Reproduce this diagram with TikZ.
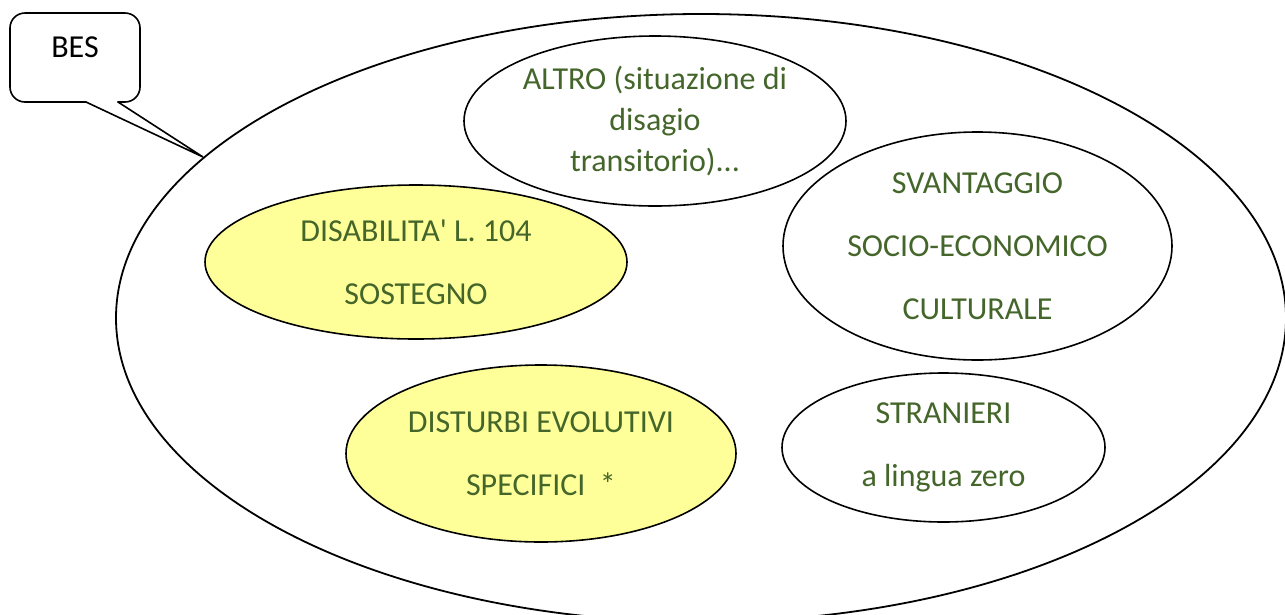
\documentclass[tikz,border=0pt]{standalone}
\usepackage{fontspec}
\setmainfont{Carlito}
\usetikzlibrary{shapes.geometric}
\definecolor{txtgreen}{HTML}{44662A}
\definecolor{fillyellow}{HTML}{FFFF99}
\tikzset{
  outline/.style={draw=black, line width=1.6pt},
  bubble/.style={ellipse, outline, fill=white, inner sep=0pt, align=center, text=txtgreen, font=\fontsize{32}{63}\selectfont},
  yellowbubble/.style={bubble, fill=fillyellow},
}
\begin{document}
\begin{tikzpicture}[x=1pt,y=-1pt]
\useasboundingbox (0,0) rectangle (1285,614);
% big set
\node[ellipse, outline, line width=1.8pt, inner sep=0pt, minimum width=1170pt, minimum height=608pt] (set) at (701,318) {};
% callout
\node[anchor=base, font=\fontsize{32}{38}\selectfont] (bestext) at (75,57) {BES};
\coordinate (tip) at (203,157);
\coordinate (pa) at (86,102);
\coordinate (pb) at (118,102);
\draw[outline, rounded corners=15pt, line cap=round] (pa) -- (10,102) -- (10,13) -- (140,13) -- (140,102) -- (pb);
\draw[outline, line join=miter, line cap=round] (pb) -- (tip) -- (pa);
% subsets
\node[bubble, minimum width=382pt, minimum height=170pt, font=\fontsize{32}{41}\selectfont] (altro) at (655,121) {ALTRO (situazione di\\disagio\\transitorio).{}.{}.};
\node[bubble, minimum width=389pt, minimum height=228pt] (svant) at (977.5,246) {SVANTAGGIO\\SOCIO-ECONOMICO\\CULTURALE};
\node[yellowbubble, minimum width=422pt, minimum height=154pt] (disab) at (416,262) {DISABILITA\textquotesingle{} L. 104\\SOSTEGNO};
\node[yellowbubble, minimum width=390pt, minimum height=177pt] (dist) at (541,453.5) {DISTURBI EVOLUTIVI\\SPECIFICI\ \ *};
\node[bubble, minimum width=323pt, minimum height=149pt] (stran) at (943.5,447.5) {STRANIERI\\a lingua zero};
\end{tikzpicture}
\end{document}
